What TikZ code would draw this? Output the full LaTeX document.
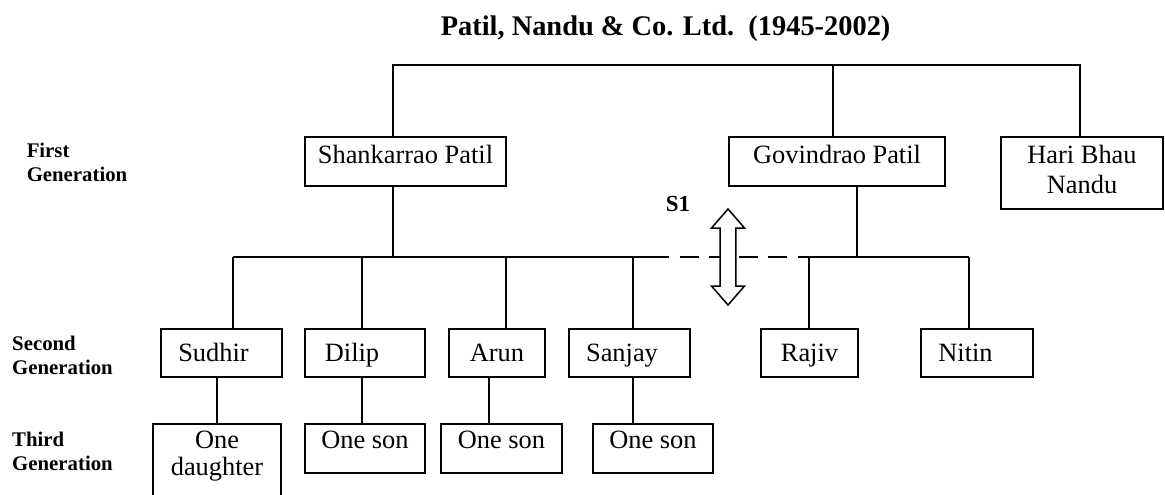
\documentclass[tikz,border=0pt]{standalone}
\usepackage{fontspec}
\setmainfont{Liberation Serif}
\usetikzlibrary{calc}

\begin{document}
\begin{tikzpicture}[
    x=0.5pt, y=-0.5pt,
    line width=0.75pt,
    person/.style={rectangle, draw, inner sep=0pt, font=\fontsize{13.2}{15}\selectfont},
    elder/.style={person, minimum height=24.5pt, text height=9pt, text depth=7pt},
    child/.style={person, minimum height=24pt, text height=9pt, text depth=0.3pt},
    grandchild/.style={person, minimum height=24.5pt, text height=9pt, text depth=9pt},
    gen/.style={anchor=base west, inner sep=0pt, font=\fontsize{10.4}{12}\selectfont\bfseries},
    split/.style={dash pattern=on 9.5pt off 5.25pt, line width=1.35pt},
]
    \useasboundingbox (0,0) rectangle (1165,494);

    % Title and generation labels
    \node[anchor=base west, inner sep=0pt, font=\fontsize{14.2}{17}\selectfont\bfseries] (title) at (440,35) {Patil, Nandu \& Co. Ltd.\hspace{0.5em}(1945-2002)};
    \node[gen] (gen1) at (26,157) {\begin{tabular}[t]{@{}l@{}}First\\Generation\end{tabular}};
    \node[gen] (gen2) at (11.5,350) {\begin{tabular}[t]{@{}l@{}}Second\\Generation\end{tabular}};
    \node[gen] (gen3) at (11.5,446) {\begin{tabular}[t]{@{}l@{}}Third\\Generation\end{tabular}};

    % First generation
    \node[elder, minimum width=100.5pt] (shank) at (405.5,161.5) {Shankarrao Patil};
    \node[elder, minimum width=108pt] (govind) at (837,161.5) {Govindrao Patil};
    \node[person, minimum width=81pt, minimum height=36pt, text height=9pt, text depth=18.7pt] (hari) at (1082,173) {\begin{tabular}[t]{@{}c@{}}Hari Bhau\\Nandu\end{tabular}};

    % Second generation
    \node[child, minimum width=60.5pt] (sudhir) at (221.5,353) {Sudhir\hspace*{8pt}};
    \node[child, minimum width=60pt] (dilip) at (365,353) {Dilip\hspace*{13pt}};
    \node[child, minimum width=48pt] (arun) at (497,353) {Arun};
    \node[child, minimum width=60.5pt] (sanjay) at (629.5,353) {Sanjay\hspace*{7.5pt}};
    \node[child, minimum width=48.5pt] (rajiv) at (809.5,353) {Rajiv};
    \node[child, minimum width=56pt] (nitin) at (977,353) {Nitin\hspace*{11.5pt}};

    % Third generation
    \node[grandchild, minimum width=64pt, minimum height=39pt, text depth=24pt] (daughter) at (217,463) {\begin{tabular}[t]{@{}c@{}}One\\[-1.5pt]daughter\end{tabular}};
    \node[grandchild, minimum width=60pt] (dilipson) at (365,448.5) {One son};
    \node[grandchild, minimum width=60.5pt] (arunson) at (501.5,448.5) {One son};
    \node[grandchild, minimum width=60pt] (sanjayson) at (653,448.5) {One son};

    % Connectors
    \coordinate (rootL) at (393,65);
    \coordinate (rootG) at (833,65);
    \coordinate (rootR) at (1080,65);
    \draw (rootL |- shank.north) -- (rootL) -- (rootR) -- (rootR |- hari.north);
    \draw (rootG) -- (rootG |- govind.north);

    \coordinate (shankJ) at (393,257);
    \coordinate (govindJ) at (857,257);
    \coordinate (splitJ) at (650,257);
    \draw (shankJ |- shank.south) -- (shankJ);
    \draw (govindJ |- govind.south) -- (govindJ);
    \foreach \n/\x in {sudhir/233, dilip/362, arun/506, sanjay/633, rajiv/809, nitin/969}{
        \coordinate (j\n) at (\x,257);
        \draw (j\n) -- (j\n |- \n.north);
    }
    \draw (jsudhir) -- (splitJ);
    \draw[split] (splitJ) -- (jrajiv);
    \draw (jrajiv) -- (jnitin);

    \foreach \p/\c/\x in {sudhir/daughter/217, dilip/dilipson/362, arun/arunson/489, sanjay/sanjayson/633}
        \draw (\x,0 |- \p.south) -- (\x,0 |- \c.north);

    % S1 marker
    \node[anchor=base west, inner sep=0pt, font=\fontsize{11.5}{14}\selectfont\bfseries] (s1) at (665,211.5) {S1};
    \coordinate (s1mid) at (728,257);
    \draw[fill=white] ($(s1mid)+(0,-48)$) -- ++(16.5,19) -- ++(-8.7,0) -- ++(0,58) -- ++(8.7,0) -- ++(-16.5,19)
        -- ++(-16.5,-19) -- ++(8.7,0) -- ++(0,-58) -- ++(-8.7,0) -- cycle;
\end{tikzpicture}
\end{document}
